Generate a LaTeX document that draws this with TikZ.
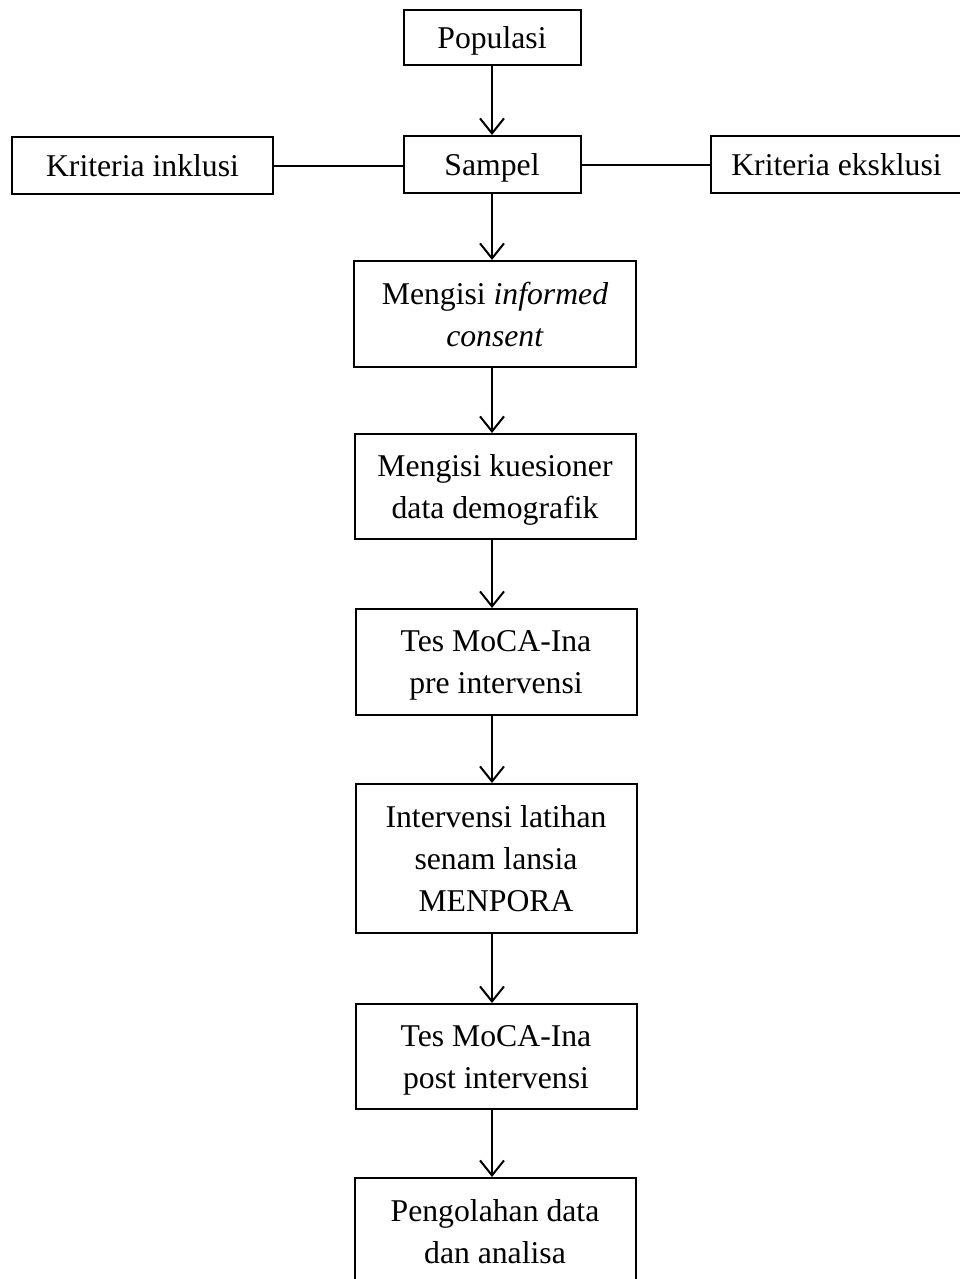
\documentclass[tikz,border=0pt]{standalone}
\usepackage{fontspec}
\setmainfont{Liberation Serif}
\usetikzlibrary{arrows.meta}
\begin{document}
\begin{tikzpicture}[x=1pt,y=-1pt,
  box/.style={draw, line width=2pt, rectangle, inner sep=0pt, align=center,
    font=\fontsize{31.7}{42}\selectfont, text depth=0pt},
  arr/.style={line width=2pt, -{Straight Barb[length=15pt,width=24pt,line width=2pt]}},
  con/.style={line width=2pt}]
\useasboundingbox (0,0) rectangle (960,1279);
\node[box, minimum width=177pt, minimum height=55pt] (pop) at (492,37.5) {Populasi};
\node[box, minimum width=177pt, minimum height=57pt] (sam) at (492,164.5) {Sampel};
\node[box, minimum width=261pt, minimum height=57pt] (ink) at (142.5,165.5) {Kriteria inklusi};
\node[box, minimum width=251pt, minimum height=57pt] (eks) at (836.5,164.5) {Kriteria eksklusi};
\node[box, minimum width=282pt, minimum height=106pt] (ic) at (495,314) {Mengisi \textit{informed}\\\textit{consent}};
\node[box, minimum width=281pt, minimum height=105pt] (kue) at (495,486.5) {Mengisi kuesioner\\data demografik};
\node[box, minimum width=281pt, minimum height=106pt] (pre) at (496,662) {Tes MoCA-Ina\\pre intervensi};
\node[box, minimum width=281pt, minimum height=149pt] (int) at (496,858.5) {Intervensi latihan\\senam lansia\\MENPORA};
\node[box, minimum width=281pt, minimum height=105pt] (post) at (496,1056.5) {Tes MoCA-Ina\\post intervensi};
\node[box, minimum width=281pt, minimum height=106pt] (olah) at (495,1231) {Pengolahan data\\dan analisa};
\draw[arr] (pop.south) -- (sam.north);
\draw[arr] (sam.south) -- (sam.south |- ic.north);
\draw[arr] (ic.south -| sam.south) -- (sam.south |- kue.north);
\draw[arr] (kue.south -| sam.south) -- (sam.south |- pre.north);
\draw[arr] (pre.south -| sam.south) -- (sam.south |- int.north);
\draw[arr] (int.south -| sam.south) -- (sam.south |- post.north);
\draw[arr] (post.south -| sam.south) -- (sam.south |- olah.north);
\draw[con] (ink.east) -- (ink.east -| sam.west);
\draw[con] (sam.east) -- (eks.west);
\end{tikzpicture}
\end{document}
